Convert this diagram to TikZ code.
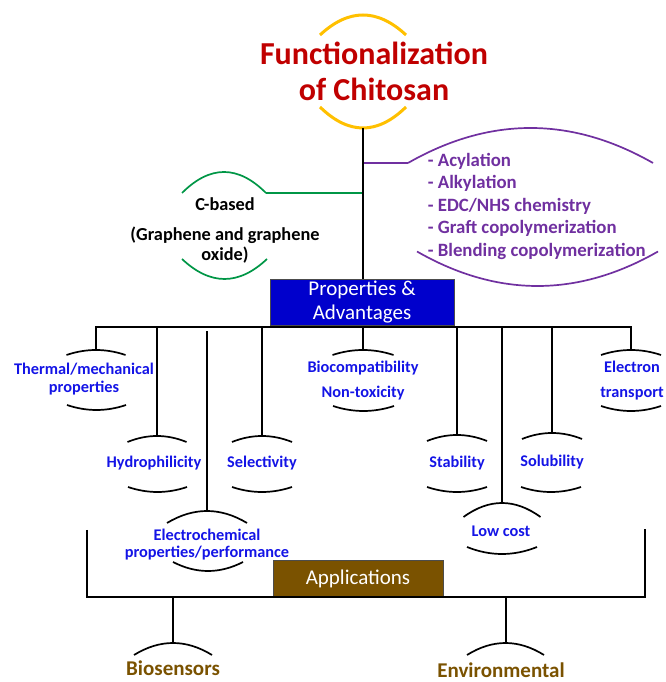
\documentclass[tikz,border=0pt]{standalone}
\usepackage{fontspec}
\setmainfont{Carlito}
\definecolor{titlered}{RGB}{192,0,0}
\definecolor{ringyellow}{RGB}{255,192,0}
\definecolor{modpurple}{RGB}{112,48,160}
\definecolor{cgreen}{RGB}{0,150,70}
\definecolor{propblue}{RGB}{0,0,204}
\definecolor{propfont}{RGB}{20,20,230}
\definecolor{appbrown}{RGB}{122,82,0}
% bracket arc: centre point, half width, rise (negative = opening upward)
\newcommand{\bowarc}[4][]{%
  \draw[#1] (#2) ++({-(#3)},{-(#4)}) .. controls +({2*(#3)/3},{4*(#4)/3}) and +({-2*(#3)/3},{4*(#4)/3}) .. ++({2*(#3)},0);}
\begin{document}
\begin{tikzpicture}[x=1pt,y=1pt,line width=1.7pt,
  lbl/.style={text=propfont,font=\bfseries\fontsize{16.3}{18}\selectfont,align=center,inner sep=0pt},
  applbl/.style={text=appbrown,font=\bfseries\fontsize{21}{24}\selectfont,inner sep=0pt},
  modlbl/.style={text=modpurple,font=\bfseries\fontsize{18.8}{22.5}\selectfont,align=left,inner sep=0pt},
  headbox/.style={draw=black!70,line width=0.6pt,text=white,font=\fontsize{21}{24}\selectfont,align=center,inner sep=0pt}]
\useasboundingbox (0,0) rectangle (665,682);

% title
\node[text=titlered,font=\bfseries\fontsize{32}{36}\selectfont,align=center,inner sep=0pt] (title) at (374,611) {Functionalization\\of Chitosan};
\coordinate (ring-t) at (363,667);
\coordinate (ring-b) at (363,554);
\bowarc[ringyellow,line width=3pt]{ring-t}{43}{20}
\bowarc[ringyellow,line width=3pt]{ring-b}{43}{-21}

% functionalization routes
\coordinate (mod-j) at (363,519);
\coordinate (mod-a) at (408,519);
\coordinate (c-j) at (363,489);
\coordinate (c-a) at (266,489);
\draw[modpurple] (mod-j) -- (mod-a);
\bowarc[modpurple]{530.5,554}{122.5}{35}
\bowarc[modpurple]{537.5,396}{120.5}{-34.5}
\node[modlbl,anchor=west] (mods) at (427,476) {- Acylation\\- Alkylation\\- EDC/NHS chemistry\\- Graft copolymerization\\- Blending copolymerization};
\draw[cgreen] (c-j) -- (c-a);
\bowarc[cgreen]{224,510}{42}{21}
\bowarc[cgreen]{224.5,403}{42.5}{-20}
\node[font=\bfseries\fontsize{18.3}{20}\selectfont,align=center,inner sep=0pt] (cbased) at (225,452) {C-based\\[10pt](Graphene and graphene\\oxide)};

% properties
\node[headbox,fill=propblue,minimum width=184pt,minimum height=46pt] (prop) at (362,380) {Properties \&\\Advantages};
\draw (ring-b) -- (ring-b |- prop.north);
\coordinate (pb-l) at (96,355);
\coordinate (thermal-t) at (96,332);
\coordinate (hydro-t) at (157,246);
\coordinate (echem-t) at (207,171);
\coordinate (select-t) at (262,246);
\coordinate (biocomp-t) at (363,332);
\coordinate (stab-t) at (457,247);
\coordinate (lowcost-t) at (502,179);
\coordinate (solub-t) at (552,249);
\coordinate (electron-t) at (631,332);
\draw (thermal-t) -- (pb-l) -| (electron-t);
\draw (hydro-t) -- (hydro-t |- pb-l);
\draw (echem-t) -- ++(0,180);
\draw (select-t) -- (select-t |- pb-l);
\draw (biocomp-t) -- (biocomp-t |- pb-l);
\draw (stab-t) -- (stab-t |- pb-l);
\draw (lowcost-t) -- (lowcost-t |- pb-l);
\draw (solub-t) -- (solub-t |- pb-l);

\bowarc{thermal-t}{29.5}{5}
\node[lbl] (thermal) at (84,302.5) {Thermal/mechanical\\properties};
\bowarc{96.5,272}{29.5}{-5}
\bowarc{hydro-t}{29.5}{6}
\node[lbl] (hydro) at (154,219) {Hydrophilicity};
\bowarc{157.5,190}{29.5}{-5}
\bowarc{echem-t}{40}{12}
\node[lbl,font=\bfseries\fontsize{16.3}{17.5}\selectfont] (echem) at (207,137.5) {Electrochemical\\properties/performance};
\bowarc{208,111}{35}{-9}
\bowarc{select-t}{30}{6}
\node[lbl] (select) at (262,219) {Selectivity};
\bowarc{262,190}{30}{-5}
\bowarc{biocomp-t}{30.5}{5}
\node[lbl] (biocomp) at (363,301.5) {Biocompatibility\\[7pt]Non-toxicity};
\bowarc{363.5,271}{30.5}{-5}
\bowarc{stab-t}{30}{6}
\node[lbl] (stab) at (457,219) {Stability};
\bowarc{457,190}{30}{-5}
\bowarc{lowcost-t}{38.5}{14}
\node[lbl] (lowcost) at (501,151) {Low cost};
\bowarc{502,128}{35}{-7}
\bowarc{solub-t}{30}{6}
\node[lbl] (solub) at (552,220) {Solubility};
\bowarc{551,190}{30}{-5}
\bowarc{electron-t}{30}{5}
\node[lbl] (electron) at (632,301.5) {Electron\\[7pt]transport};
\bowarc{631,271}{30}{-5}

% applications
\node[headbox,fill=appbrown,minimum width=170pt,minimum height=36pt,anchor=south] (app) at (358,85) {Applications};
\coordinate (ab-l) at (87,152);
\coordinate (ab-r) at (645,153);
\coordinate (biosens-t) at (173,39);
\coordinate (enviro-t) at (506,39);
\draw (ab-l) -- ++(0,-67) -| (ab-r);
\draw (biosens-t) -- (biosens-t |- app.south);
\draw (enviro-t) -- (enviro-t |- app.south);
\bowarc{biosens-t}{39}{12}
\node[applbl] (biosens) at (173,14) {Biosensors};
\bowarc{505.5,39}{38.5}{12}
\node[applbl] (enviro) at (501,12) {Environmental};
\end{tikzpicture}
\end{document}
